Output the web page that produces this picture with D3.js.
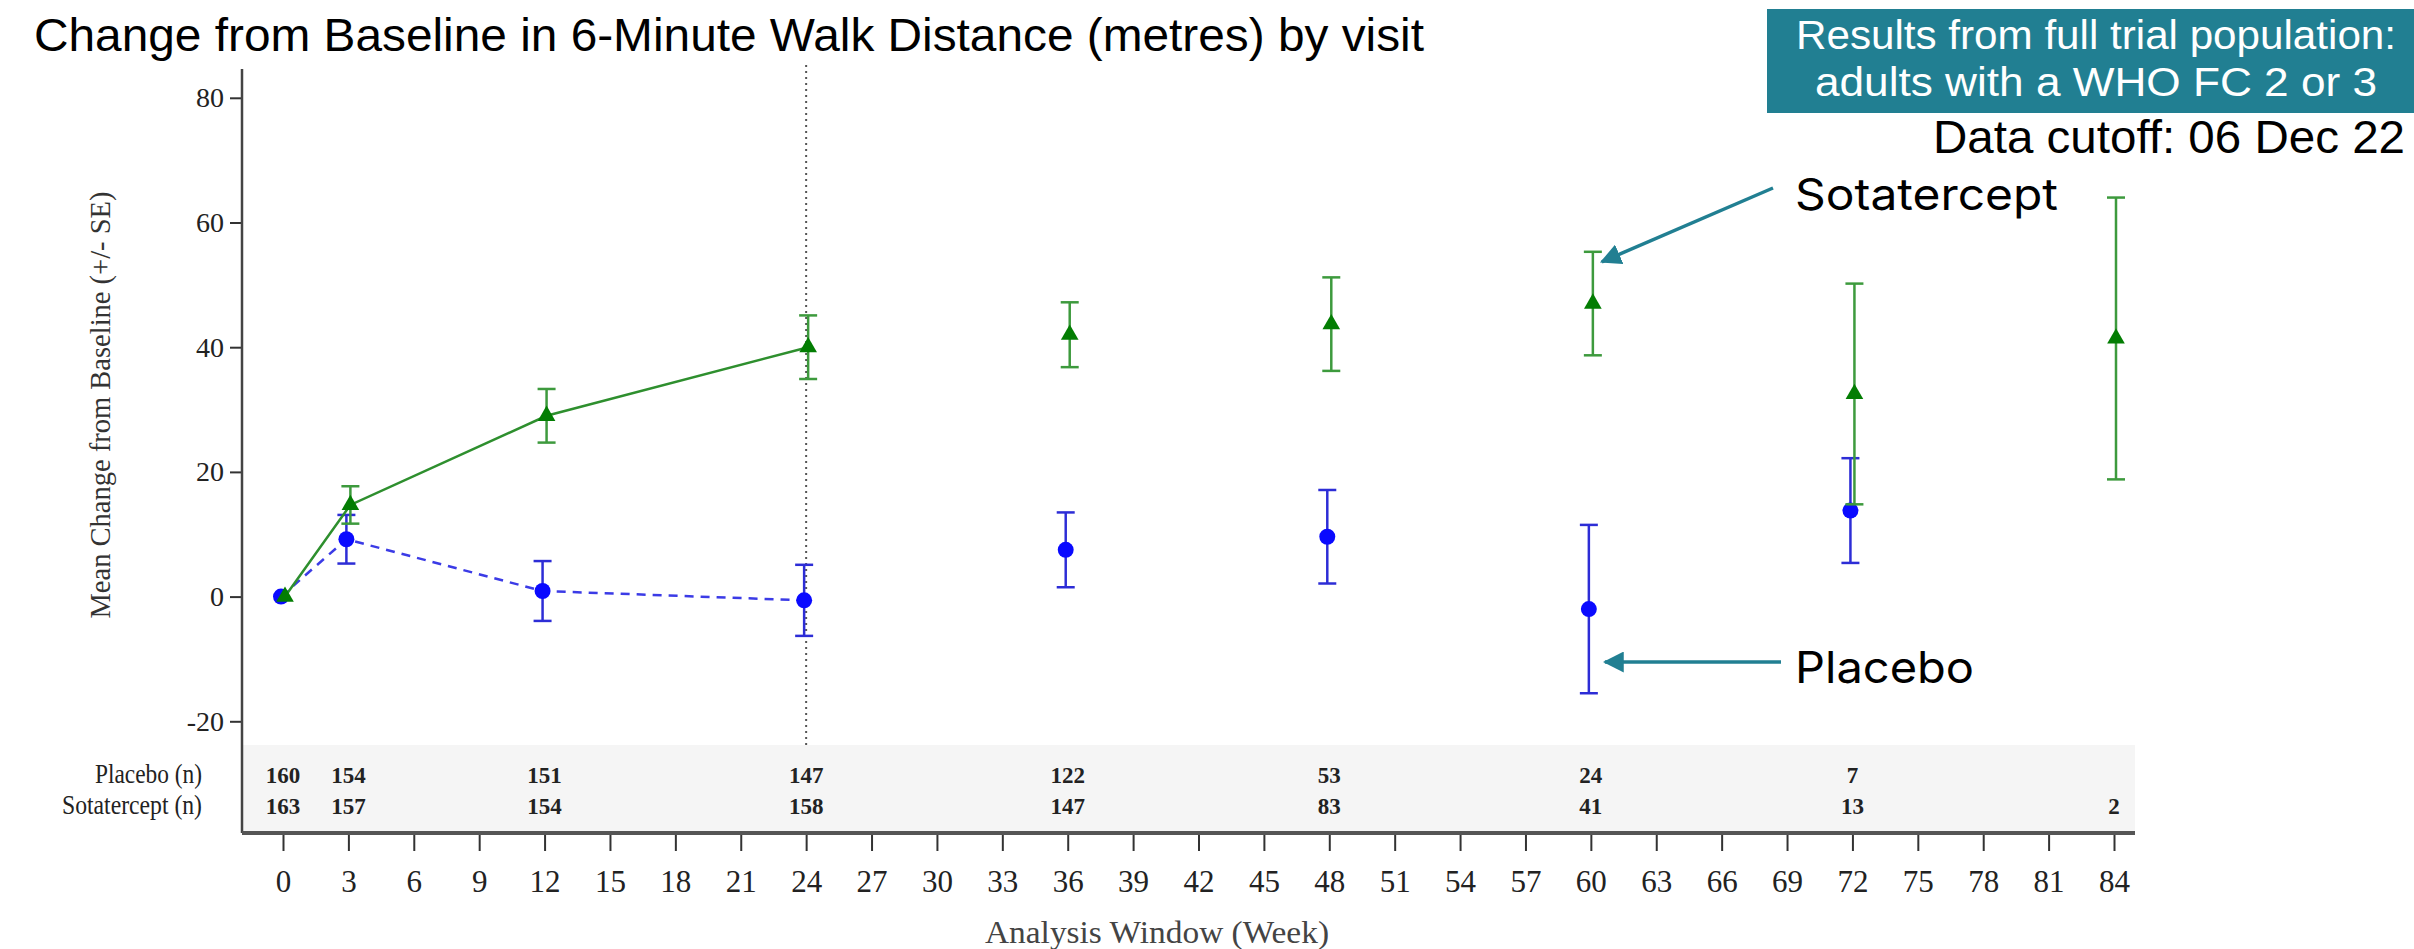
<!DOCTYPE html>
<meta charset="utf-8">
<style>
  body {margin: 0; background: #fff;}
  svg text {font-family: 'Liberation Serif', serif;}
</style>
<svg width="2414" height="949"></svg>
<script src="https://cdnjs.cloudflare.com/ajax/libs/d3/7.8.5/d3.min.js"></script>
<script>

// data
var xTicks = d3.range(0, 85, 3);
var yTicks = [-20, 0, 20, 40, 60, 80];

var placeboWeeks = [0, 3, 12, 24, 36, 48, 60, 72];
var placeboMean  = [0, 9.2, 0.9, -0.6, 7.5, 9.6, -2.0, 13.8];
var placeboSE    = [0, 3.9, 4.8, 5.7, 6.0, 7.5, 13.5, 8.4];
var placeboN     = [160, 154, 151, 147, 122, 53, 24, 7];

var sotaWeeks = [0, 3, 12, 24, 36, 48, 60, 72, 84];
var sotaMean  = [0, 14.7, 29.0, 40.0, 42.0, 43.7, 47.0, 32.5, 41.4];
var sotaSE    = [0, 3.0, 4.3, 5.1, 5.2, 7.5, 8.3, 17.7, 22.6];
var sotaN     = [163, 157, 154, 158, 147, 83, 41, 13, 2];

var lineEnd = 24; // markers are joined up to the primary endpoint

var svg = d3.select("svg");

var axisLeftX = 242, axisTop = 69, tableTop = 745, axisBottom = 833, plotRight = 2135;

var x = d3.scaleLinear().domain([0, 84]).range([283, 2114]);
var y = d3.scaleLinear().domain([-20, 80]).range([721.3, 97.8]);

// n table background
svg.append("rect")
  .attr("x", axisLeftX).attr("y", tableTop)
  .attr("width", plotRight - axisLeftX).attr("height", axisBottom - tableTop)
  .attr("fill", "#f5f5f5");

// dotted reference line at week 24
svg.append("line")
  .attr("x1", x(24)).attr("x2", x(24))
  .attr("y1", axisTop - 4).attr("y2", tableTop)
  .attr("stroke", "#555").attr("stroke-width", 2)
  .attr("stroke-dasharray", "2,4");

// y axis
var yAxis = svg.append("g")
  .attr("transform", "translate(" + axisLeftX + ",0)")
  .call(d3.axisLeft(y).tickValues(yTicks).tickSize(12).tickPadding(6)
    .tickFormat(function(d) { return String(d); }));
yAxis.select(".domain").remove();
yAxis.selectAll("line").attr("stroke", "#333").attr("stroke-width", 2);
yAxis.selectAll("text").attr("font-size", 28).attr("fill", "#222")
  .style("font-family", "'Liberation Serif', serif");

svg.append("line")
  .attr("x1", axisLeftX).attr("x2", axisLeftX)
  .attr("y1", axisTop).attr("y2", axisBottom)
  .attr("stroke", "#444").attr("stroke-width", 2.5);

// x axis
var xAxis = svg.append("g")
  .attr("transform", "translate(0," + axisBottom + ")")
  .call(d3.axisBottom(x).tickValues(xTicks).tickSize(18).tickPadding(19));
xAxis.select(".domain").remove();
xAxis.selectAll("line").attr("stroke", "#333").attr("stroke-width", 2);
xAxis.selectAll("text").attr("font-size", 31).attr("fill", "#222")
  .style("font-family", "'Liberation Serif', serif");

svg.append("line")
  .attr("x1", axisLeftX).attr("x2", plotRight)
  .attr("y1", axisBottom).attr("y2", axisBottom)
  .attr("stroke", "#555").attr("stroke-width", 4);

// axis titles
svg.append("text")
  .attr("transform", "translate(110,405) rotate(-90)")
  .attr("text-anchor", "middle")
  .attr("font-size", 30).attr("fill", "#333")
  .attr("textLength", 427).attr("lengthAdjust", "spacingAndGlyphs")
  .text("Mean Change from Baseline (+/- SE)");

svg.append("text")
  .attr("x", 1157).attr("y", 943)
  .attr("text-anchor", "middle")
  .attr("font-size", 31).attr("fill", "#444")
  .attr("textLength", 344).attr("lengthAdjust", "spacingAndGlyphs")
  .text("Analysis Window (Week)");

// n at risk rows
var rows = [
  {label: "Placebo (n)", weeks: placeboWeeks, n: placeboN, y: 783, w: 107},
  {label: "Sotatercept (n)", weeks: sotaWeeks, n: sotaN, y: 814, w: 140}
];
rows.forEach(function(r) {
  svg.append("text")
    .attr("x", 202).attr("y", r.y)
    .attr("text-anchor", "end")
    .attr("font-size", 27).attr("fill", "#222")
    .attr("textLength", r.w).attr("lengthAdjust", "spacingAndGlyphs")
    .text(r.label);
  svg.append("g").selectAll("text")
    .data(r.weeks)
    .enter().append("text")
    .attr("x", function(d) { return x(d); })
    .attr("y", r.y)
    .attr("text-anchor", "middle")
    .attr("font-size", 23).attr("font-weight", "bold").attr("fill", "#222")
    .text(function(d, i) { return r.n[i]; });
});

// series
function buildSeries(weeks, mean, se) {
  return weeks.map(function(w, i) { return {week: w, mean: mean[i], se: se[i]}; });
}
var placebo = buildSeries(placeboWeeks, placeboMean, placeboSE);
var sota = buildSeries(sotaWeeks, sotaMean, sotaSE);

function drawSeries(data, opt) {
  var g = svg.append("g");
  var xs = function(d) { return x(d.week) + opt.dx; };

  g.append("path")
    .datum(data.filter(function(d) { return d.week <= lineEnd; }))
    .attr("fill", "none")
    .attr("stroke", opt.line)
    .attr("stroke-width", 2.5)
    .attr("stroke-dasharray", opt.dash)
    .attr("d", d3.line().x(xs).y(function(d) { return y(d.mean); }));

  var bars = g.selectAll(".err")
    .data(data.filter(function(d) { return d.se > 0; }))
    .enter().append("g")
    .attr("stroke", opt.bar).attr("stroke-width", 2.5);
  bars.append("line")
    .attr("x1", xs).attr("x2", xs)
    .attr("y1", function(d) { return y(d.mean + d.se); })
    .attr("y2", function(d) { return y(d.mean - d.se); });
  [1, -1].forEach(function(s) {
    bars.append("line")
      .attr("x1", function(d) { return xs(d) - 9; })
      .attr("x2", function(d) { return xs(d) + 9; })
      .attr("y1", function(d) { return y(d.mean + s * d.se); })
      .attr("y2", function(d) { return y(d.mean + s * d.se); });
  });

  g.selectAll(".pt")
    .data(data)
    .enter().append("path")
    .attr("transform", function(d) { return "translate(" + xs(d) + "," + y(d.mean) + ")"; })
    .attr("d", d3.symbol().type(opt.symbol).size(opt.size))
    .attr("fill", opt.mark);
}

drawSeries(placebo, {dx: -2, line: "#3b3be6", bar: "#2d2dd6", mark: "#0a0aff",
  dash: "9,7", symbol: d3.symbolCircle, size: 200});
drawSeries(sota, {dx: 2, line: "#2e8f2e", bar: "#3d9a3d", mark: "#037d03",
  dash: null, symbol: d3.symbolTriangle, size: 135});

// title
svg.append("text")
  .attr("x", 34).attr("y", 51)
  .attr("font-size", 46)
  .attr("textLength", 1390).attr("lengthAdjust", "spacingAndGlyphs")
  .style("font-family", "'Liberation Sans', Arial, sans-serif")
  .attr("fill", "#000")
  .text("Change from Baseline in 6-Minute Walk Distance (metres) by visit");

// population box
var teal = "#217f92";
svg.append("rect")
  .attr("x", 1767).attr("y", 9).attr("width", 2414 - 1767).attr("height", 104)
  .attr("fill", teal);
[["Results from full trial population:", 49, 600], ["adults with a WHO FC 2 or 3", 96, 562]].forEach(function(l) {
  svg.append("text")
    .attr("x", 2096).attr("y", l[1])
    .attr("text-anchor", "middle")
    .attr("font-size", 40).attr("fill", "#fff")
    .attr("textLength", l[2]).attr("lengthAdjust", "spacingAndGlyphs")
    .style("font-family", "'Liberation Sans', Arial, sans-serif")
    .text(l[0]);
});

svg.append("text")
  .attr("x", 2405).attr("y", 153)
  .attr("text-anchor", "end")
  .attr("font-size", 46).attr("fill", "#000")
  .attr("textLength", 472).attr("lengthAdjust", "spacingAndGlyphs")
  .style("font-family", "'Liberation Sans', Arial, sans-serif")
  .text("Data cutoff: 06 Dec 22");

// arrow labels
svg.append("defs").append("marker")
  .attr("id", "head")
  .attr("viewBox", "0 0 10 10").attr("refX", 9).attr("refY", 5)
  .attr("markerWidth", 6).attr("markerHeight", 6)
  .attr("orient", "auto")
  .append("path").attr("d", "M0,0 L10,5 L0,10 z").attr("fill", teal);

var callouts = [
  {text: "Sotatercept", week: 60, value: 53.7, dx: 11, x0: 1773, y0: 188, flat: false, tx: 1795, ty: 210, w: 263},
  {text: "Placebo", week: 60, value: -10.5, dx: 14, x0: 1781, y0: 662, flat: true, tx: 1795, ty: 683, w: 179}
];
callouts.forEach(function(c) {
  svg.append("line")
    .attr("x1", c.x0).attr("y1", c.y0)
    .attr("x2", x(c.week) + c.dx).attr("y2", c.flat ? c.y0 : y(c.value))
    .attr("stroke", teal).attr("stroke-width", 3.5)
    .attr("marker-end", "url(#head)");
  svg.append("text")
    .attr("x", c.tx).attr("y", c.ty)
    .attr("font-size", 44).attr("fill", "#000")
    .attr("textLength", c.w).attr("lengthAdjust", "spacingAndGlyphs")
    .style("font-family", "Inter, 'Noto Sans', sans-serif")
    .text(c.text);
});

</script>
